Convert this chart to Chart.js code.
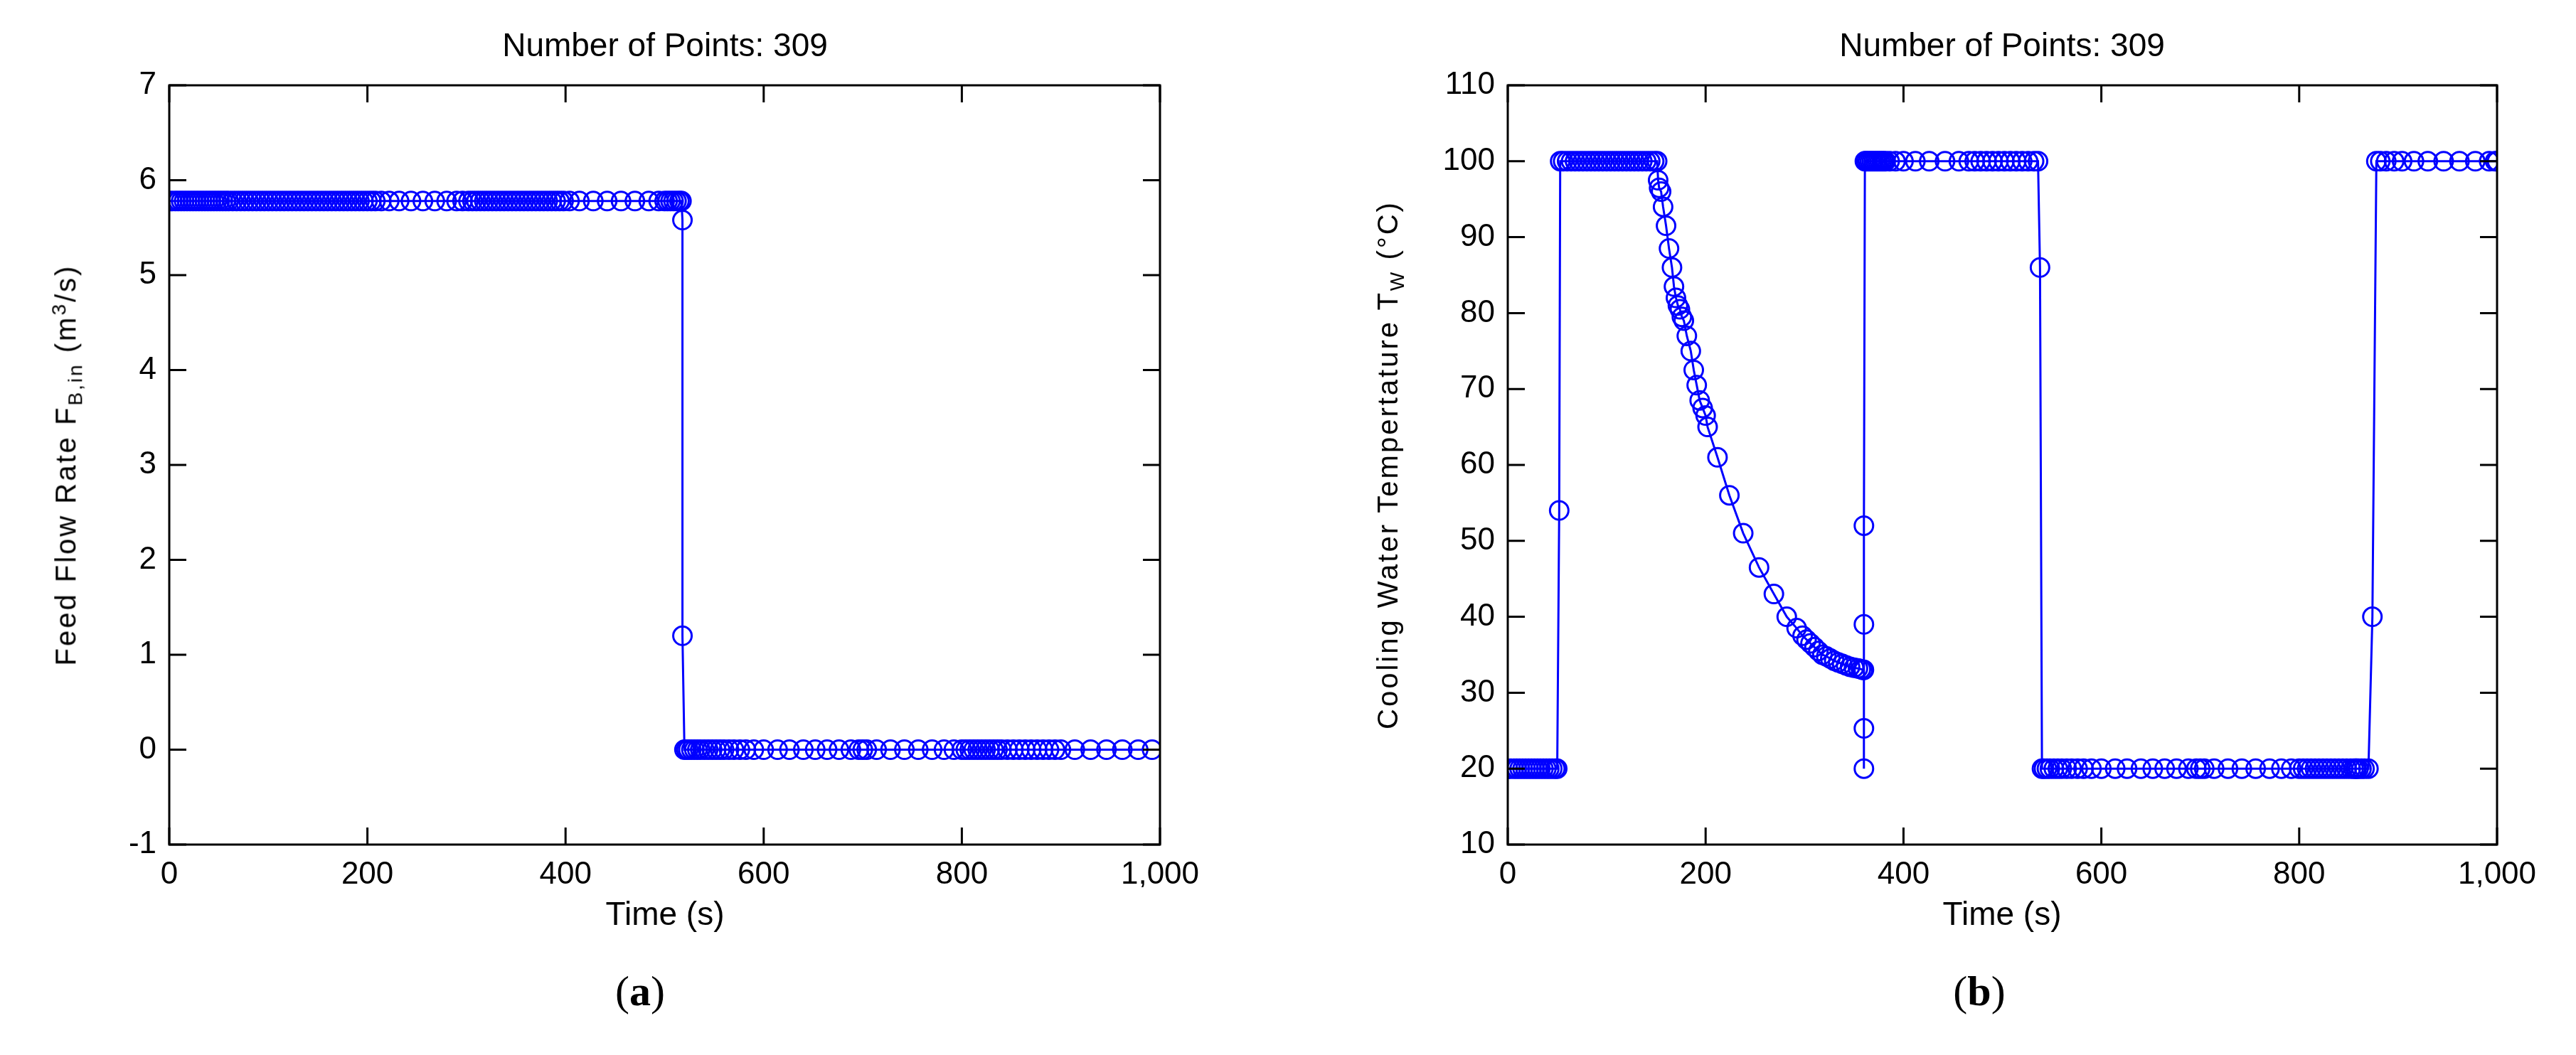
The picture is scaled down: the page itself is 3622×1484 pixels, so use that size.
<!DOCTYPE html>
<html>
<head>
<meta charset="utf-8">
<script src="https://cdn.jsdelivr.net/npm/chart.js@4/dist/chart.umd.min.js"></script>
<style>
body { margin: 0; background: #fff; width: 3622px; height: 1484px; overflow: hidden; position: relative; font-family: "Liberation Sans Narrow", "Liberation Sans", Arial, sans-serif; }
.box { position: absolute; top: 0; height: 1484px; }
.txt { position: absolute; white-space: nowrap; color: #000; }
.title { font-size: 46px; top: 36px; transform: translateX(-50%); }
.xlab { font-size: 46px; top: 1258px; transform: translateX(-50%); }
.ylab { font-family: "Liberation Sans", Arial, sans-serif; font-size: 40px; letter-spacing: 3px; transform: translate(-50%, -50%) rotate(-90deg); }
.ylab sub, .ylab sup { font-size: 28px; }
.cap { font-family: "Liberation Serif", "Times New Roman", serif; font-size: 60px; top: 1360px; transform: translateX(-50%); }
</style>
</head>
<body>
<div class="box" style="left:0;width:1700px"><canvas id="chartA"></canvas></div>
<div class="box" style="left:1800px;width:1822px"><canvas id="chartB"></canvas></div>

<div class="txt title" style="left:935px">Number of Points: 309</div>
<div class="txt title" style="left:2815px">Number of Points: 309</div>
<div class="txt xlab" style="left:935px">Time (s)</div>
<div class="txt xlab" style="left:2815px">Time (s)</div>
<div class="txt ylab" style="left:95px;top:654px">Feed Flow Rate F<sub>B,in</sub> (m<sup>3</sup>/s)</div>
<div class="txt ylab" style="left:1955px;top:654px">Cooling Water Tempertature T<sub>W</sub> (°C)</div>
<div class="txt cap" style="left:900px">(<b>a</b>)</div>
<div class="txt cap" style="left:2783px">(<b>b</b>)</div>

<script>
// ---- data ----
const timeA = [0,3,6,9,12,15,18,21,24,27,30,33,36,39,42,45,48,51,54,57,60,64,68,72,76,80,84,88,92,96,100,104,108,112,116,120,124,128,132,136,140,144,148,152,156,160,164,168,172,176,180,184,188,192,196,200,204,208,214,222,232,244,256,268,280,290,296,302,306,310,314,318,322,326,330,334,338,342,346,350,354,358,362,366,370,374,378,382,386,390,394,398,404,414,428,442,456,470,484,494,500,503,506,509,512,515,517,518,518,520,522,524,527,530,533,536,540,544,548,552,556,560,565,570,576,582,590,600,614,626,640,652,664,676,688,696,700,704,714,728,742,756,770,782,792,800,804,808,812,816,820,824,828,832,836,840,846,852,858,864,870,876,882,888,894,900,914,930,946,962,978,992,998,1000];
const valueA = [5.78,5.78,5.78,5.78,5.78,5.78,5.78,5.78,5.78,5.78,5.78,5.78,5.78,5.78,5.78,5.78,5.78,5.78,5.78,5.78,5.78,5.78,5.78,5.78,5.78,5.78,5.78,5.78,5.78,5.78,5.78,5.78,5.78,5.78,5.78,5.78,5.78,5.78,5.78,5.78,5.78,5.78,5.78,5.78,5.78,5.78,5.78,5.78,5.78,5.78,5.78,5.78,5.78,5.78,5.78,5.78,5.78,5.78,5.78,5.78,5.78,5.78,5.78,5.78,5.78,5.78,5.78,5.78,5.78,5.78,5.78,5.78,5.78,5.78,5.78,5.78,5.78,5.78,5.78,5.78,5.78,5.78,5.78,5.78,5.78,5.78,5.78,5.78,5.78,5.78,5.78,5.78,5.78,5.78,5.78,5.78,5.78,5.78,5.78,5.78,5.78,5.78,5.78,5.78,5.78,5.78,5.78,5.58,1.2,0,0,0,0,0,0,0,0,0,0,0,0,0,0,0,0,0,0,0,0,0,0,0,0,0,0,0,0,0,0,0,0,0,0,0,0,0,0,0,0,0,0,0,0,0,0,0,0,0,0,0,0,0,0,0,0,0,0,0,0,0,0,0];

const timeB = [0,3,6,9,12,15,18,21,24,27,30,33,36,39,42,45,48,50,52,53,56,60,64,68,72,76,80,84,88,92,96,100,104,108,112,116,120,124,128,132,136,140,144,148,151,152,153,155,157,160,163,166,168,170,172,174,176,178,181,185,188,191,194,197,200,202,212,224,238,254,269,282,292,298,302,306,310,314,318,322,326,330,334,338,342,346,350,354,357,359,360,360,360,360,360,361,362,364,366,368,370,372,374,376,378,380,382,386,392,400,412,426,442,456,466,472,478,484,490,496,502,508,514,520,526,532,536,538,540,542,545,548,552,556,560,565,570,576,582,590,600,614,626,640,652,664,676,688,696,700,704,714,728,742,756,770,782,792,800,804,808,812,816,820,824,828,832,836,840,844,848,852,855,857,858,860,863,866,870,874,878,882,888,896,904,916,930,946,962,978,992,998,1000];
const valueB = [20,20,20,20,20,20,20,20,20,20,20,20,20,20,20,20,20,20,54,100,100,100,100,100,100,100,100,100,100,100,100,100,100,100,100,100,100,100,100,100,100,100,100,100,100,97.5,96.5,96,94,91.5,88.5,86,83.5,82,81,80.5,79.5,79,77,75,72.5,70.5,68.5,67.5,66.5,65,61,56,51,46.5,43,40,38.5,37.5,37,36.5,36,35.5,35,34.8,34.5,34.2,34,33.8,33.6,33.4,33.3,33.2,33.1,33,33,20,25.3,39,52,100,100,100,100,100,100,100,100,100,100,100,100,100,100,100,100,100,100,100,100,100,100,100,100,100,100,100,100,100,100,100,100,86,20,20,20,20,20,20,20,20,20,20,20,20,20,20,20,20,20,20,20,20,20,20,20,20,20,20,20,20,20,20,20,20,20,20,20,20,20,20,20,20,20,20,20,20,20,20,20,20,20,20,20,40,100,100,100,100,100,100,100,100,100,100,100,100,100,100,100,100,100,100];

const xTicks = [0, 200, 400, 600, 800, 1000];
const yTicksA = [-1, 0, 1, 2, 3, 4, 5, 6, 7];
const yTicksB = [10, 20, 30, 40, 50, 60, 70, 80, 90, 100, 110];

// inward ticks on all four sides + frame, matlab style
const frameTicks = {
    id: "frameTicks",
    afterDraw(chart) {
        const ctx = chart.ctx;
        const a = chart.chartArea;
        const xs = chart.scales.x, ys = chart.scales.y;
        const len = 24;
        ctx.save();
        ctx.strokeStyle = "#000";
        ctx.lineWidth = 3;
        ctx.strokeRect(a.left, a.top, a.right - a.left, a.bottom - a.top);
        ctx.beginPath();
        xs.ticks.forEach(t => {
            const px = xs.getPixelForValue(t.value);
            ctx.moveTo(px, a.bottom); ctx.lineTo(px, a.bottom - len);
            ctx.moveTo(px, a.top); ctx.lineTo(px, a.top + len);
        });
        ys.ticks.forEach(t => {
            const py = ys.getPixelForValue(t.value);
            ctx.moveTo(a.left, py); ctx.lineTo(a.left + len, py);
            ctx.moveTo(a.right, py); ctx.lineTo(a.right - len, py);
        });
        ctx.stroke();
        ctx.restore();
    }
};

function makeChart(id, xs, ys, yMin, yMax, yTicks, yWidth, rightPad) {
    const pts = xs.map((x, i) => ({ x: x, y: ys[i] }));
    const tickFont = { family: "'Liberation Sans Narrow', 'Liberation Sans', Arial", size: 44 };
    return new Chart(document.getElementById(id), {
        type: "scatter",
        data: {
            datasets: [{
                data: pts,
                showLine: true,
                borderColor: "#0000ff",
                borderWidth: 3,
                pointStyle: "circle",
                pointRadius: 13,
                pointBorderWidth: 3,
                pointBorderColor: "#0000ff",
                pointBackgroundColor: "rgba(0,0,0,0)"
            }]
        },
        options: {
            responsive: true,
            maintainAspectRatio: false,
            animation: false,
            layout: { padding: { top: 120, right: rightPad, bottom: 236, left: 0 } },
            plugins: { legend: { display: false }, tooltip: { enabled: false } },
            scales: {
                x: {
                    type: "linear", min: 0, max: 1000,
                    afterBuildTicks: s => { s.ticks = xTicks.map(v => ({ value: v })); },
                    afterFit: s => { s.height = 60; },
                    grid: { display: false },
                    border: { display: false },
                    ticks: { color: "#000", font: tickFont, padding: 8 }
                },
                y: {
                    type: "linear", min: yMin, max: yMax,
                    afterBuildTicks: s => { s.ticks = yTicks.map(v => ({ value: v })); },
                    afterFit: s => { s.width = yWidth; },
                    grid: { display: false },
                    border: { display: false },
                    ticks: { color: "#000", font: tickFont, padding: 10 }
                }
            }
        },
        plugins: [frameTicks]
    });
}

makeChart("chartA", timeA, valueA, -1, 7, yTicksA, 238, 69);
makeChart("chartB", timeB, valueB, 10, 110, yTicksB, 320, 111);
</script>
</body>
</html>
